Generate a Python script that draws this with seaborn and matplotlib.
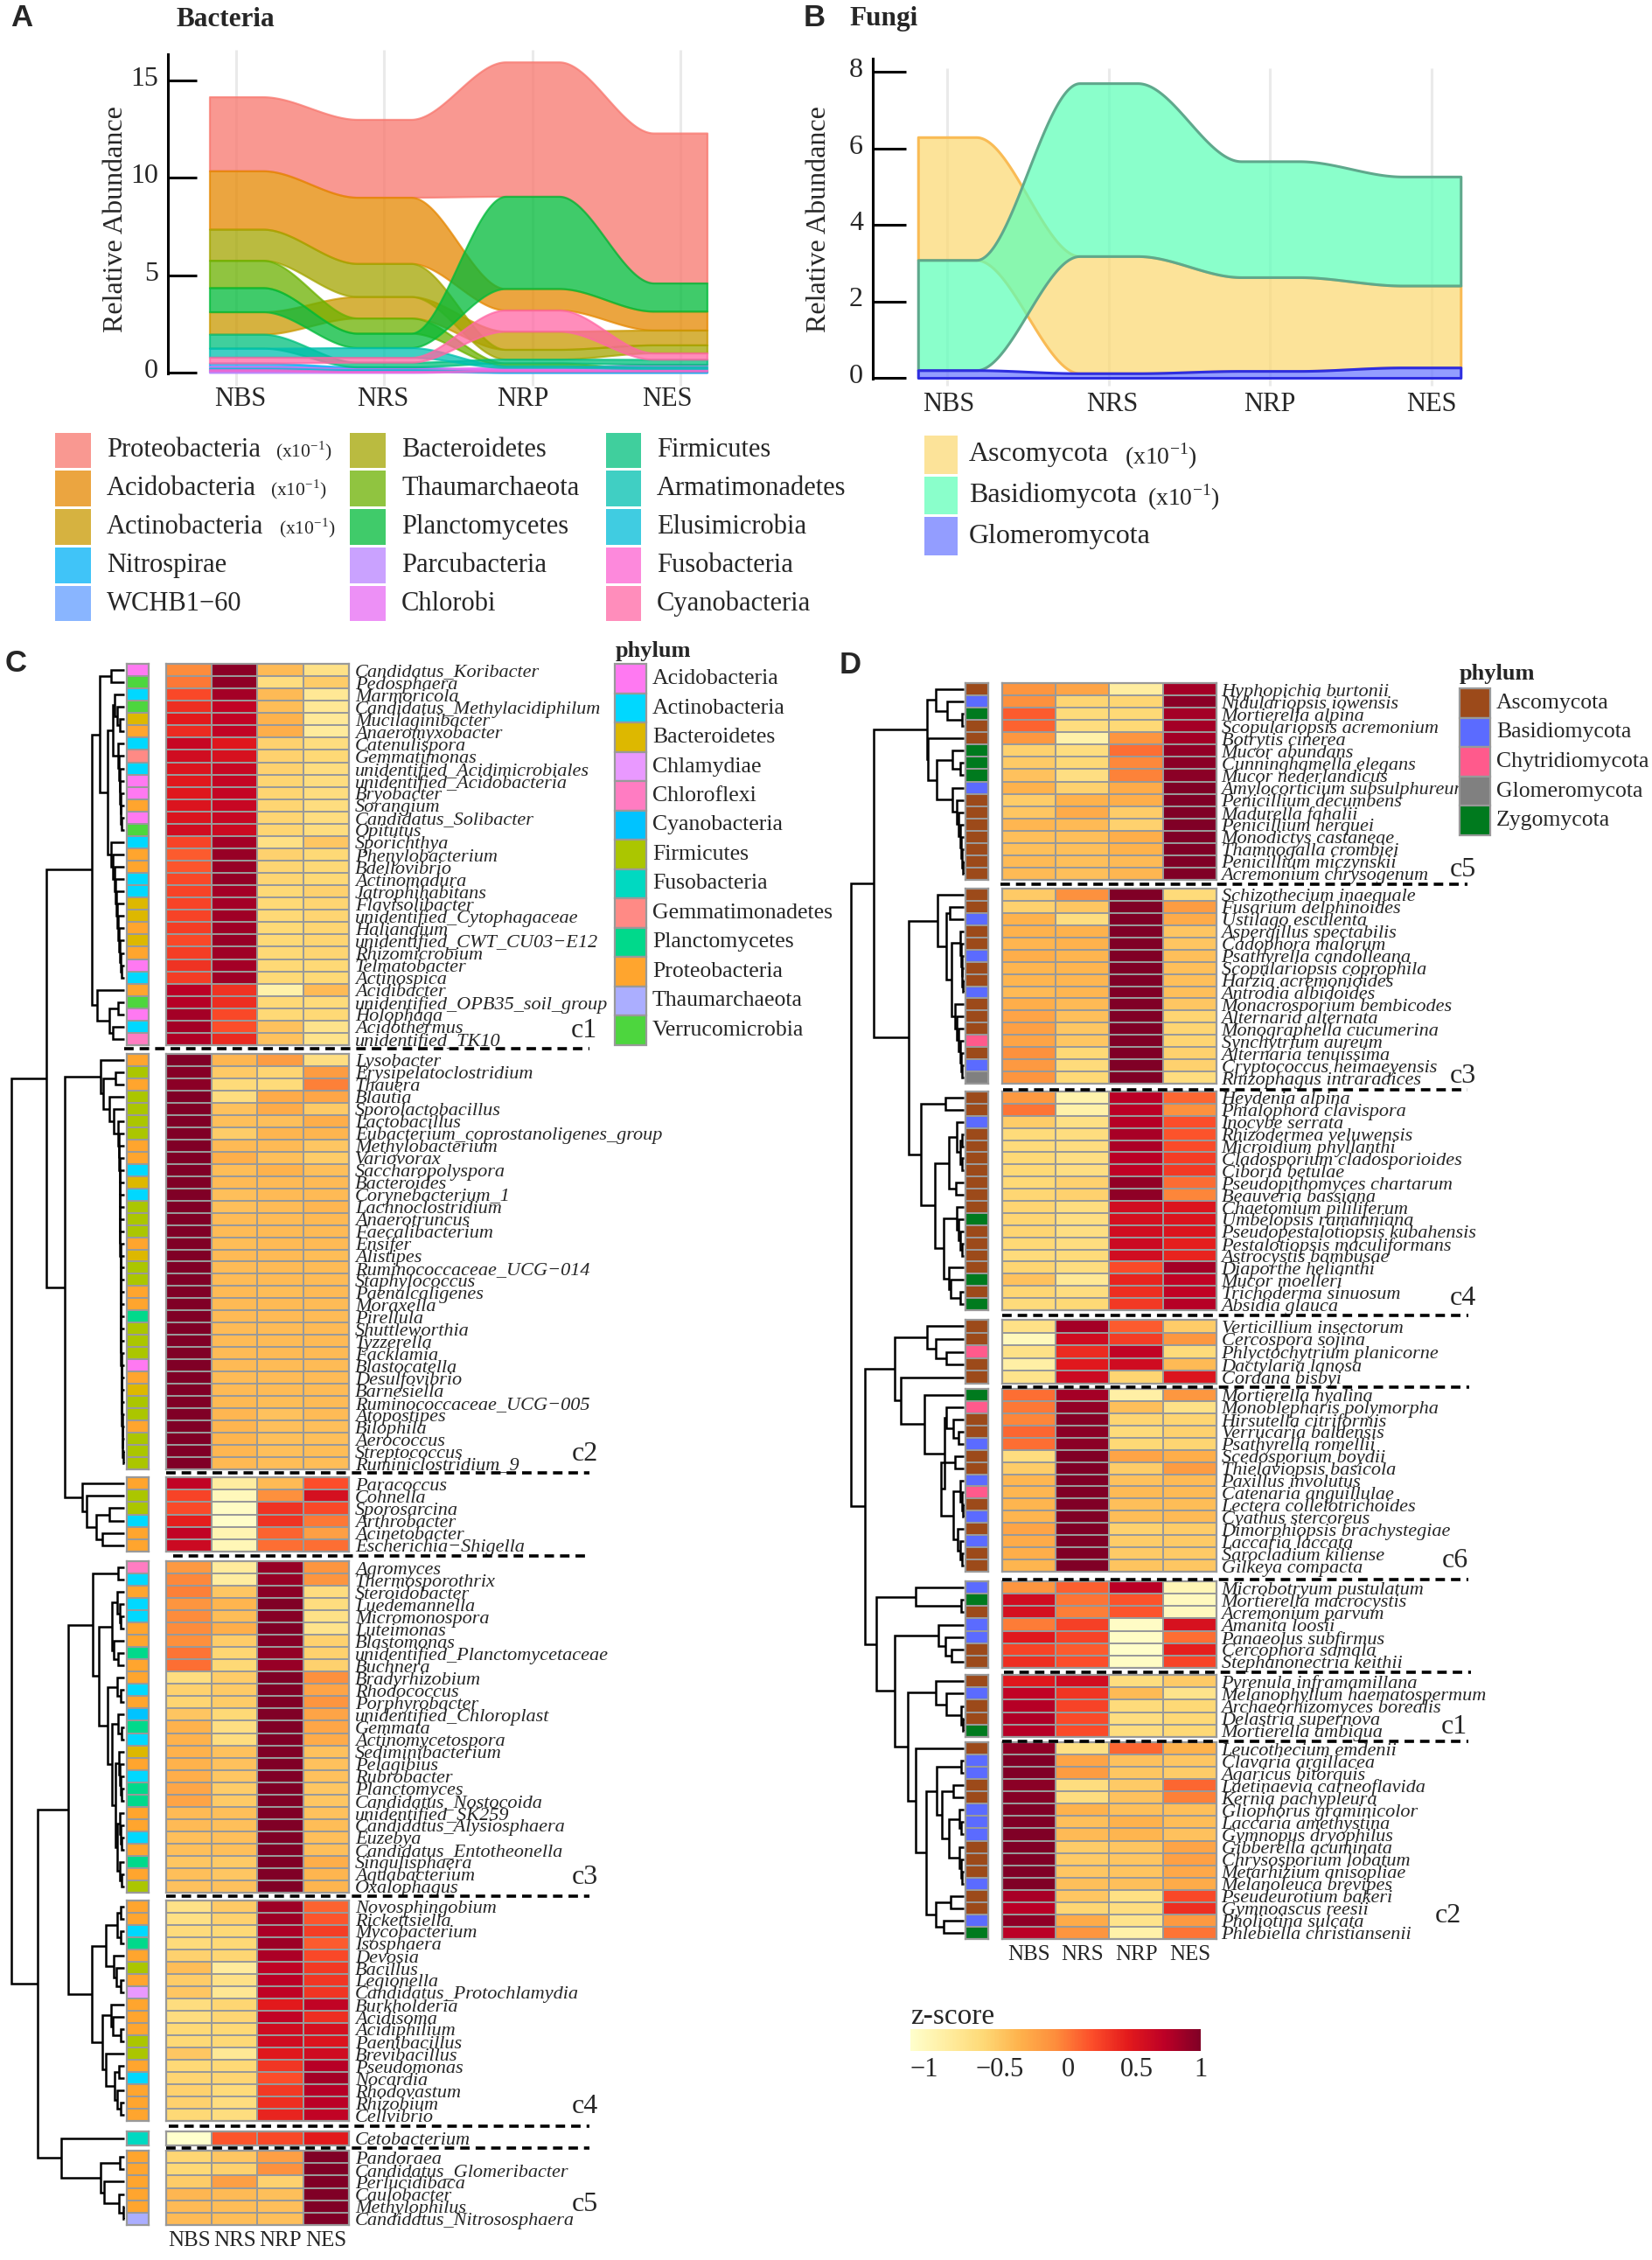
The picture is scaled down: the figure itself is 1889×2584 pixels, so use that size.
import numpy as np
import pandas as pd
import matplotlib
matplotlib.use('Agg')
import matplotlib.pyplot as plt
import matplotlib.transforms as mtrans
from matplotlib.colors import ListedColormap, to_rgba
from matplotlib.patches import Rectangle
import seaborn as sns

sns.set_theme(style='white')
plt.rcParams['font.family'] = ['Liberation Serif', 'DejaVu Serif']
plt.rcParams['mathtext.fontset'] = 'custom'
plt.rcParams['mathtext.rm'] = 'Liberation Serif'

W, H = 1890, 2584
SAMPLES = ['NBS', 'NRS', 'NRP', 'NES']
MINUS = '\u2212'

# ---- panel A, stream heights per sample
BACT_NAMES = ['Proteobacteria', 'Acidobacteria', 'Actinobacteria', 'Nitrospirae', 'WCHB1' + MINUS + '60',
              'Bacteroidetes', 'Thaumarchaeota', 'Planctomycetes', 'Parcubacteria', 'Chlorobi',
              'Firmicutes', 'Armatimonadetes', 'Elusimicrobia', 'Fusobacteria', 'Cyanobacteria']
BACT_COLORS = ['#F8766D', '#E58700', '#C99800', '#00B0F6', '#619CFF',
               '#A3A500', '#6BB100', '#00BA38', '#B983FF', '#E76BF3',
               '#00BF7D', '#00C0AF', '#00BCD8', '#FD61D1', '#FF67A4']
BACT_HEIGHTS = [[3.80, 4.00, 6.90, 7.70],
                [3.00, 3.40, 1.10, 0.97],
                [1.15, 1.10, 0.93, 0.76],
                [0.17, 0.08, 0.03, 0.03],
                [0.05, 0.04, 0.02, 0.02],
                [1.60, 1.70, 0.50, 0.41],
                [1.40, 0.78, 0.13, 0.05],
                [1.24, 0.74, 4.74, 1.45],
                [0.04, 0.03, 0.06, 0.06],
                [0.09, 0.06, 0.10, 0.11],
                [0.72, 0.24, 0.20, 0.26],
                [0.46, 0.50, 0.10, 0.10],
                [0.08, 0.05, 0.02, 0.02],
                [0.06, 0.03, 0.03, 0.03],
                [0.30, 0.25, 1.09, 0.33]]

# ---- panel B
FUNGI_NAMES = ['Ascomycota', 'Basidiomycota', 'Glomeromycota']
FUNGI_COLORS = ['#FBD972', '#5DFFB8', '#6A78FF']
FUNGI_EDGES = ['#F9BB55', '#5FA88C', '#2E2EE0']
FUNGI_HEIGHTS = [[3.21, 3.06, 2.45, 2.14],
                 [2.88, 4.52, 3.03, 2.85],
                 [0.20, 0.12, 0.18, 0.27]]

# ---- panel C, legend
C_PHYLA = ['Acidobacteria', 'Actinobacteria', 'Bacteroidetes', 'Chlamydiae', 'Chloroflexi', 'Cyanobacteria',
           'Firmicutes', 'Fusobacteria', 'Gemmatimonadetes', 'Planctomycetes', 'Proteobacteria',
           'Thaumarchaeota', 'Verrucomicrobia']
C_CODES = 'ANBHXCFUGLPTV'
C_COLORS = ['#FF79F2', '#00D8FF', '#DDB800', '#E999FF', '#FF7CC2', '#00C3FF',
            '#ABC600', '#00D9C1', '#FF8A85', '#00D98B', '#FFA52E', '#ABAEFF', '#4DD63E']

C1_GENERA = ['Candidatus_Koribacter', 'Pedosphaera', 'Marmoricola', 'Candidatus_Methylacidiphilum', 'Mucilaginibacter',
             'Anaeromyxobacter', 'Catenulispora', 'Gemmatimonas', 'unidentified_Acidimicrobiales',
             'unidentified_Acidobacteria', 'Bryobacter', 'Sorangium', 'Candidatus_Solibacter', 'Opitutus', 'Sporichthya',
             'Phenylobacterium', 'Bdellovibrio', 'Actinomadura', 'Jatrophihabitans', 'Flavisolibacter',
             'unidentified_Cytophagaceae', 'Haliangium', 'unidentified_CWT_CU03' + MINUS + 'E12', 'Rhizomicrobium',
             'Telmatobacter', 'Actinospica', 'Acidibacter', 'unidentified_OPB35_soil_group', 'Holophaga', 'Acidothermus',
             'unidentified_TK10']
C1_PHYLA = 'AVNVBPNGNAAPAVNPPNNBBPBPANPVANX'
C1_Z = [[0.0, .95, -.3, -.6], [.08, .93, -.55, -.42], [.28, .85, -.3, -.68], [.4, .72, -.32, -.68], [.5, .72, -.25, -.7],
        [.42, .72, -.22, -.72], [.68, .53, -.45, -.55], [.62, .58, -.45, -.5], [.55, .68, -.45, -.55], [.52, .7, -.47, -.55],
        [.53, .7, -.47, -.55], [.55, .68, -.47, -.55], [.55, .68, -.47, -.55], [.62, .65, -.47, -.55], [.3, .85, -.58, -.38],
        [.2, .9, -.45, -.5], [.22, .9, -.47, -.5], [.28, .92, -.47, -.5], [.3, .85, -.5, -.45], [.3, .85, -.5, -.47],
        [.3, .87, -.5, -.47], [.33, .87, -.5, -.47], [.28, .9, -.5, -.47], [.33, .87, -.5, -.47], [.38, .85, -.5, -.5],
        [.33, .87, -.5, -.5], [.75, .38, -.8, -.3], [.78, .4, -.5, -.52], [.85, .28, -.5, -.5], [.85, .25, -.35, -.62],
        [.8, .42, -.35, -.62]]

C2_GENERA = ['Lysobacter', 'Erysipelatoclostridium', 'Thauera', 'Blautia', 'Sporolactobacillus', 'Lactobacillus',
             'Eubacterium_coprostanoligenes_group', 'Methylobacterium', 'Variovorax', 'Saccharopolyspora', 'Bacteroides',
             'Corynebacterium_1', 'Lachnoclostridium', 'Anaerotruncus', 'Faecalibacterium', 'Ensifer', 'Alistipes',
             'Ruminococcaceae_UCG' + MINUS + '014', 'Staphylococcus', 'Paenalcaligenes', 'Moraxella', 'Pirellula',
             'Shuttleworthia', 'Tyzzerella', 'Facklamia', 'Blastocatella', 'Desulfovibrio', 'Barnesiella',
             'Ruminococcaceae_UCG' + MINUS + '005', 'Atopostipes', 'Bilophila', 'Aerococcus', 'Streptococcus',
             'Ruminiclostridium_9']
C2_PHYLA = 'PFPFFFFPPNBNFFFPBFFPPLFFFAPBFFPFFF'
C2_Z = [[1, -.28, -.1, -.57], [.97, -.4, -.47, -.1], [.95, -.52, -.52, .05], [1, -.55, -.2, -.17], [1, -.35, -.2, -.4],
        [1, -.33, -.33, -.22], [1, -.42, -.27, -.27], [1, -.3, -.3, -.38], [1, -.23, -.33, -.42], [1, -.32, -.25, -.33],
        [1, -.3, -.3, -.3], [1, -.33, -.3, -.3], [1, -.33, -.31, -.28], [1, -.31, -.31, -.29], [1, -.31, -.3, -.3],
        [1, -.32, -.3, -.3], [1, -.3, -.3, -.32], [1, -.31, -.3, -.31], [1, -.31, -.3, -.31], [1, -.3, -.32, -.3],
        [1, -.3, -.3, -.31], [1, -.3, -.3, -.31], [1, -.31, -.31, -.3], [1, -.31, -.31, -.3], [1, -.31, -.3, -.3],
        [1, -.3, -.31, -.31], [1, -.31, -.31, -.31], [1, -.3, -.31, -.31], [1, -.29, -.32, -.31], [1, -.28, -.35, -.31],
        [1, -.27, -.33, -.33], [1, -.27, -.33, -.33], [1, -.28, -.33, -.32], [1, -.29, -.32, -.32]]

C6_GENERA = ['Paracoccus', 'Cohnella', 'Sporosarcina', 'Arthrobacter', 'Acinetobacter', 'Escherichia' + MINUS + 'Shigella']
C6_PHYLA = 'PFFNPP'
C6_Z = [[.72, -.75, -.3, .25], [.3, -.9, -.02, .6], [.27, -.95, .38, .28], [.48, -.97, .38, .08], [.72, -.85, .17, -.12],
        [.65, -.88, .12, .12]]

C3_GENERA = ['Agromyces', 'Thermosporothrix', 'Steroidobacter', 'Luedemannella', 'Micromonospora', 'Luteimonas', 'Blastomonas',
             'unidentified_Planctomycetaceae', 'Buchnera', 'Bradyrhizobium', 'Rhodococcus', 'Porphyrobacter',
             'unidentified_Chloroplast', 'Gemmata', 'Actinomycetospora', 'Sediminibacterium', 'Pelagibius', 'Rubrobacter',
             'Planctomyces', 'Candidatus_Nostocoida', 'unidentified_SK259', 'Candidatus_Alysiosphaera', 'Euzebya',
             'Candidatus_Entotheonella', 'Singulisphaera', 'Aquabacterium', 'Oxalophagus']
C3_PHYLA = 'XNPNNPPLPPNPCLNBPNLLPPNPLPF'
C3_Z = [[-.08, -.72, .9, -.05], [.02, -.75, .9, -.05], [.05, -.38, .95, -.55], [-.05, -.27, 1, -.55], [0, -.32, .97, -.6],
        [0, -.22, 1, -.62], [-.02, -.42, .97, -.45], [.1, -.48, .92, -.45], [.12, -.5, .9, -.45], [-.55, -.42, 1, -.02],
        [-.45, -.4, 1, -.15], [-.47, -.42, 1, -.05], [-.37, -.5, 1, -.15], [-.25, -.57, 1, -.17], [-.25, -.55, 1, -.2],
        [-.25, -.35, 1, -.35], [-.25, -.35, 1, -.35], [-.22, -.38, 1, -.35], [-.17, -.42, 1, -.38], [-.15, -.4, 1, -.38],
        [-.3, -.33, 1, -.35], [-.3, -.33, 1, -.32], [-.33, -.33, 1, -.33], [-.33, -.33, 1, -.33], [-.38, -.4, 1, -.22],
        [-.33, -.38, 1, -.27], [-.35, -.35, 1, -.27]]

C4_GENERA = ['Novosphingobium', 'Rickettsiella', 'Mycobacterium', 'Isosphaera', 'Devosia', 'Bacillus', 'Legionella',
             'Candidatus_Protochlamydia', 'Burkholderia', 'Acidisoma', 'Acidiphilium', 'Paenibacillus', 'Brevibacillus',
             'Pseudomonas', 'Nocardia', 'Rhodovastum', 'Rhizobium', 'Cellvibrio']
C4_PHYLA = 'PPNLPFPHPPPFFPNPPP'
C4_Z = [[-.6, -.4, .88, .17], [-.58, -.45, .88, .22], [-.53, -.5, .82, .33], [-.53, -.5, .88, .2], [-.45, -.48, .82, .28],
        [-.32, -.72, .73, .35], [-.42, -.6, .75, .36], [-.38, -.67, .73, .37], [-.55, -.48, .5, .72], [-.55, -.48, .72, .4],
        [-.5, -.5, .63, .6], [-.5, -.5, .63, .55], [-.38, -.68, .52, .63], [-.5, -.5, .36, .77], [-.47, -.47, .25, .85],
        [-.45, -.52, .35, .77], [-.45, -.55, .4, .75], [-.5, -.55, .45, .72]]

CETO_GENERA = ['Cetobacterium']
CETO_PHYLA = 'U'
CETO_Z = [[-1, .22, .28, .5]]

C5_GENERA = ['Pandoraea', 'Candidatus_Glomeribacter', 'Perlucidibaca', 'Caulobacter', 'Methylophilus',
             'Candidatus_Nitrososphaera']
C5_PHYLA = 'PPPPPT'
C5_Z = [[-.48, -.38, -.12, 1], [-.5, -.45, -.03, 1], [-.42, -.12, -.45, 1], [-.28, -.3, -.33, 1], [-.3, -.32, -.33, 1],
        [-.3, -.32, -.33, 1]]

# ---- panel D
D_PHYLA = ['Ascomycota', 'Basidiomycota', 'Chytridiomycota', 'Glomeromycota', 'Zygomycota']
D_CODES = 'ABCGZ'
D_COLORS = ['#9C4A1A', '#5B6BFF', '#FF5A8C', '#808080', '#007A1E']

D5_GENERA = ['Hyphopichia burtonii', 'Nidulariopsis iowensis', 'Mortierella alpina', 'Scopulariopsis acremonium',
             'Botrytis cinerea', 'Mucor abundans', 'Cunninghamella elegans', 'Mucor nederlandicus',
             'Amylocorticium subsulphureum', 'Penicillium decumbens', 'Madurella fahalii', 'Penicillium herquei',
             'Monodictys castaneae', 'Thamnogalla crombiei', 'Penicillium miczynskii', 'Acremonium chrysogenum']
D5_PHYLA = 'ABZAAZZZBAAAAAAA'
D5_Z = [[-.05, -.15, -.75, .85], [-.03, -.47, -.48, .95], [.2, -.52, -.5, .85], [.17, -.55, -.5, .85], [-.07, -.8, -.05, .85],
        [-.45, -.55, .12, .92], [-.4, -.5, .02, .95], [-.35, -.57, .04, .95], [-.25, -.45, -.2, 1], [-.42, -.25, -.22, 1],
        [-.38, -.2, -.42, 1], [-.28, -.3, -.45, 1], [-.33, -.33, -.22, 1], [-.33, -.33, -.25, 1], [-.3, -.33, -.3, 1],
        [-.3, -.33, -.28, 1]]

D3_GENERA = ['Schizothecium inaequale', 'Fusarium delphinoides', 'Ustilago esculenta', 'Aspergillus spectabilis',
             'Cadophora malorum', 'Psathyrella candolleana', 'Scopulariopsis coprophila', 'Harzia acremonioides',
             'Antrodia albidoides', 'Monacrosporium bembicodes', 'Alternaria alternata', 'Monographella cucumerina',
             'Synchytrium aureum', 'Alternaria tenuissima', 'Cryptococcus heimaeyensis', 'Rhizophagus intraradices']
D3_PHYLA = 'AABAABAABAAACABG'
D3_Z = [[-.4, -.03, 1, -.52], [-.45, -.38, 1, -.1], [-.25, -.55, 1, -.2], [-.25, -.25, 1, -.37], [-.27, -.25, 1, -.37],
        [-.22, -.27, 1, -.33], [-.27, -.27, 1, -.33], [-.27, -.28, 1, -.33], [-.3, -.28, 1, -.33], [-.22, -.3, 1, -.38],
        [-.15, -.33, 1, -.47], [-.13, -.38, 1, -.47], [-.15, -.38, 1, -.47], [-.03, -.5, 1, -.45], [-.08, -.53, 1, -.45],
        [-.05, -.5, 1, -.55]]

D4_GENERA = ['Heydenia alpina', 'Phialophora clavispora', 'Inocybe serrata', 'Rhizodermea veluwensis', 'Microidium phyllanthi',
             'Cladosporium cladosporioides', 'Ciboria betulae', 'Pseudopithomyces chartarum', 'Beauveria bassiana',
             'Chaetomium pililiferum', 'Umbelopsis ramanniana', 'Pseudopestalotiopsis kubahensis', 'Pestalotiopsis maculiformans',
             'Astrocystis bambusae', 'Diaporthe helianthi', 'Mucor moelleri', 'Trichoderma sinuosum', 'Absidia glauca']
D4_PHYLA = 'AABAAAAAAAZAAAAZAZ'
D4_Z = [[-.08, -.82, .75, .15], [.1, -.8, .75, -.03], [-.42, -.58, .78, .25], [-.52, -.55, .83, .23], [-.52, -.55, .82, .27],
        [-.5, -.57, .75, .33], [-.5, -.57, .73, .35], [-.5, -.45, .92, .13], [-.48, -.45, .93, .03], [-.47, -.55, .62, .55],
        [-.47, -.57, .6, .55], [-.47, -.57, .62, .55], [-.5, -.55, .65, .48], [-.53, -.52, .62, .45], [-.47, -.55, .27, .85],
        [-.35, -.68, .45, .72], [-.48, -.55, .4, .72], [-.53, -.5, .35, .78]]

DV_GENERA = ['Verticillium insectorum', 'Cercospora sojina', 'Phlyctochytrium planicorne', 'Dactylaria lanosa', 'Cordana bisbyi']
DV_PHYLA = 'AACAA'
DV_Z = [[-.6, .85, .2, -.42], [-.9, .63, .33, -.07], [-.6, .42, .72, -.52], [-.78, .52, .63, -.3], [-.62, .65, -.47, .55]]

D6_GENERA = ['Mortierella hyalina', 'Monoblepharis polymorpha', 'Hirsutella citriformis', 'Verrucaria baldensis',
             'Psathyrella romellii', 'Scedosporium boydii', 'Thielaviopsis basicola', 'Paxillus involutus', 'Catenaria anguillulae',
             'Lectera collelotrichoides', 'Cyathus stercoreus', 'Dimorphiopsis brachystegiae', 'Laccaria laccata',
             'Sarocladium kiliense', 'Gilkeya compacta']
D6_PHYLA = 'ZCAABAABCABABAA'
D6_Z = [[.12, .85, -.78, -.07], [.08, .92, -.33, -.6], [.03, .97, -.47, -.47], [.15, .95, -.52, -.45], [.12, .95, -.5, -.47],
        [-.55, 1, -.15, -.22], [-.42, 1, -.42, -.1], [-.28, 1, -.35, -.3], [-.28, 1, -.3, -.3], [-.27, 1, -.33, -.32],
        [-.27, 1, -.32, -.3], [-.15, 1, -.45, -.42], [-.2, 1, -.42, -.4], [-.22, 1, -.4, -.4], [-.27, 1, -.36, -.38]]

DM_GENERA = ['Microbotryum pustulatum', 'Mortierella macrocystis', 'Acremonium parvum', 'Amanita loosii', 'Panaeolus subfirmus',
             'Cercophora samala', 'Stephanonectria keithii']
DM_PHYLA = 'BZABBAA'
DM_Z = [[-.05, .18, .75, -.87], [.62, .1, .23, -.92], [.6, .06, .22, -.92], [.07, .32, -.96, .58], [.52, .3, -.96, .12],
        [.3, .2, -.98, .48], [.4, .25, -.95, .3]]

D1_GENERA = ['Pyrenula inframamillana', 'Melanophyllum haematospermum', 'Archaeorhizomyces borealis', 'Delastria supernova',
             'Mortierella ambigua']
D1_PHYLA = 'ABAAZ'
D1_Z = [[.53, .62, -.55, -.4], [.72, .37, -.3, -.62], [.78, .3, -.53, -.5], [.8, .27, -.55, -.5], [.78, .27, -.55, -.5]]

D2_GENERA = ['Leucothecium emdenii', 'Clavaria argillacea', 'Agaricus bitorquis', 'Laetinaevia carneoflavida', 'Kernia pachypleura',
             'Gliophorus graminicolor', 'Laccaria amethystina', 'Gymnopus dryophilus', 'Gibberella acuminata', 'Chrysosporium lobatum',
             'Metarhizium anisopliae', 'Melanoleuca brevipes', 'Pseudeurotium bakeri', 'Gymnoascus reesii', 'Pholiotina sulcata',
             'Phlebiella christiansenii']
D2_PHYLA = 'ABBAABBBAAABAABZ'
D2_Z = [[.93, -.58, .15, -.25], [1, -.15, -.35, -.38], [1, -.1, -.38, -.42], [.95, -.55, -.4, .15], [.97, -.55, -.35, .05],
        [1, -.25, -.33, -.33], [1, -.33, -.25, -.32], [1, -.3, -.27, -.35], [1, -.42, -.37, -.15], [1, -.4, -.37, -.13],
        [1, -.38, -.36, -.18], [1, -.33, -.33, -.2], [.83, -.38, -.58, .28], [.75, -.48, -.55, .4], [.93, -.2, -.62, -.08],
        [.75, -.05, -.8, .1]]

# ---- dendrograms: (merge level, upper child, lower child), L is one leaf
L = 1


def comb(levels):
    node = (levels[-1], L, L)
    for lv in reversed(levels[:-1]):
        node = (lv, L, node)
    return node


C_TREE_C1 = (105,
             (114, (127, L, L),
              (123,
               (129, comb([131, 134, 137]), comb([135, 136, 137, 137, 138, 138, 139])),
               (127, L, comb([129, 131, 132, 133, 134, 135, 136, 137, 138, 139])))),
             (111, L, (125, (135, L, L), (129, L, L))))
C_TREE_C2 = (115, L,
             (118, (132, L, L),
              (125, L,
               (130, L, comb([135, 136, 136, 137, 137, 137, 137, 137, 137, 137, 138, 138, 138, 138,
                              138, 138, 138, 138, 138, 139, 139, 139, 139, 139, 140, 140, 140, 141])))))
C_TREE_C6 = (94, L, (99, L, (110, (125, L, L), (117, L, L))))
C_TREE_C3 = (106, (135, L, L),
             (113,
              (128, (134, L, (137, L, (138, L, L))), (130, L, (135, L, L))),
              (123, (134, L, (138, L, L)),
               (128, (135, L, (139, L, L)),
                (132, comb([136, 137, 138, 139]),
                 (134, comb([137, 138, 139]), (137, L, (139, L, L))))))))
C_TREE_C4 = (105,
             (121, (134, (138, L, L), (138, L, L)), (130, L, (133, L, (138, L, L)))),
             (117, (127, L, (129, L, (138, L, L))),
              (121, L, (131, (136, L, L), (134, L, (138, L, L))))))
C_TREE_C5 = (115, (137, L, L), (119, L, (136, L, (141, L, L))))
C_TREE = (13,
          (53, C_TREE_C1, (74, C_TREE_C2, C_TREE_C6)),
          (43, (78, C_TREE_C3, C_TREE_C4), (70, L, C_TREE_C5)))

D_TREE_C5 = (1060,
             (1070, L, (1083, L, (1100, L, L))),
             (1061, L,
              (1071, (1089, L, (1098, L, L)),
               (1089, L, comb([1094, 1096, 1098, 1099, 1100, 1101])))))
D_TREE_C3 = (1072, L,
             (1082, (1086, L, L),
              (1088, comb([1098, 1099, 1100, 1100, 1101]), comb([1092, 1094, 1096, 1098, 1099, 1100]))))
D_TREE_C4 = (1053, (1081, L, L),
             (1069,
              (1085, (1094, L, (1098, (1100, L, L), (1100, L, L))), (1093, L, L)),
              (1079, comb([1094, 1096, 1098, 1100]), (1085, L, (1087, L, (1098, L, L))))))
D_TREE_V = (1060, L, (1070, L, (1082, L, L)))
D_TREE_C6 = (1057, L,
             (1080, (1082, L, (1090, L, (1096, L, L))),
              (1076, (1092, L, L),
               (1090, comb([1098, 1100, 1101]), comb([1095, 1098, 1100])))))
D_TREE_M = (1047, L, (1099, L, L))
D_TREE_M2 = (1073, L, (1081, L, (1088, L, L)))
D_TREE_C1 = (1070, L, (1082, L, (1099, L, (1101, L, L))))
D_TREE_C2 = (1047, L,
             (1059,
              (1071, (1099, L, L),
               (1077, (1090, L, L),
                (1085, (1097, L, (1099, L, L)), comb([1097, 1099, 1100])))),
              (1070, (1087, L, L), (1079, L, L))))
D_TREE = (973,
          (999, D_TREE_C5, (1039, D_TREE_C3, D_TREE_C4)),
          (989,
           (1023, D_TREE_V, (1030, L, D_TREE_C6)),
           (1002, D_TREE_M, (1023, D_TREE_M2, (1038, D_TREE_C1, D_TREE_C2)))))

CMAP = sns.color_palette('YlOrRd', as_cmap=True)
GREY = '#999999'

fig = plt.figure(figsize=(W / 100, H / 100), dpi=100, facecolor='white')


def px_axes(l, t, r, b, **kw):
    return fig.add_axes([l / W, 1 - b / H, (r - l) / W, (b - t) / H], **kw)


def shift_text(lab, dx, dy):
    # offsets in pixels, up is negative like the picture
    off = mtrans.ScaledTranslation(dx / 100, -dy / 100, fig.dpi_scale_trans)
    lab.set_transform(lab.get_transform() + off)


def stream_panel(l, t, r, b, x0, x3, y0, ytop_px, yunit, ticks, heights, faces, edges, alpha, edge_alpha, lw, xshift, tick_len):
    ax = px_axes(l, t, r, b)
    step = (x3 - x0) / 3
    ax.set_xlim((l - x0) / step, (r - x0) / step)
    ax.set_ylim((y0 - b) / yunit, (y0 - t) / yunit)
    # gridlines run a little past the axis, as in the picture
    ax.vlines(range(4), (y0 - 441) / yunit, (y0 - ytop_px) / yunit, color='#EAEAEA', lw=2.2, clip_on=False, zorder=0)

    h = np.array(heights, dtype=float)
    tops = np.zeros_like(h)
    bots = np.zeros_like(h)
    for j in range(4):
        base = 0.0
        for i in np.argsort(h[:, j], kind='stable'):
            bots[i, j] = base
            base += h[i, j]
            tops[i, j] = base

    flat = 0.18
    t01 = np.linspace(0, 1, 60)[1:-1]
    s = t01 ** 2 * (3 - 2 * t01)
    for i in range(len(h)):
        xx, lo, hi = [], [], []
        for j in range(4):
            xx += [j - flat, j + flat]
            lo += [bots[i, j]] * 2
            hi += [tops[i, j]] * 2
            if j < 3:
                xx += list(j + flat + t01 * (1 - 2 * flat))
                lo += list(bots[i, j] + s * (bots[i, j + 1] - bots[i, j]))
                hi += list(tops[i, j] + s * (tops[i, j + 1] - tops[i, j]))
        ax.fill_between(xx, lo, hi, facecolor=to_rgba(faces[i], alpha), edgecolor=to_rgba(edges[i], edge_alpha),
                        lw=lw, zorder=2 + i * 0.01)

    ax.set_yticks(ticks)
    ax.set_yticklabels([str(v) for v in ticks], fontsize=23)
    ax.set_xticks(range(4))
    ax.set_xticklabels(SAMPLES, fontsize=22)
    ax.tick_params(axis='y', direction='in', length=tick_len, width=2.2, color='black', pad=8, left=True)
    ax.tick_params(axis='x', length=0, pad=11)
    sns.despine(ax=ax, bottom=True)
    ax.spines['left'].set_linewidth(2.2)
    ax.spines['left'].set_color('black')
    ax.set_facecolor('none')
    ax.grid(False)
    for lab in ax.get_yticklabels():
        shift_text(lab, 0, -5)
    for lab, dx in zip(ax.get_xticklabels(), xshift):
        shift_text(lab, dx, 0)
    return ax


stream_panel(192, 62, 830, 427, 270, 778, 426, 57, 22.27, [0, 5, 10, 15], BACT_HEIGHTS, BACT_COLORS, BACT_COLORS,
             0.75, 0.75, 1.6, [5, -2, -11, -15], 24)
stream_panel(998, 67, 1690, 433, 1083, 1637, 432, 78, 43.75, [0, 2, 4, 6, 8], FUNGI_HEIGHTS, FUNGI_COLORS, FUNGI_EDGES,
             0.72, 1.0, 2.2, [2, 4, -1, 0], 27)


def heat_block(l, r, strip_l, strip_r, t, b, z, genera, phyla, codes, colors, xlabels=False, cax=None, pad=5):
    ax = px_axes(l, t, r, b)
    df = pd.DataFrame(z, index=genera, columns=SAMPLES)
    if cax is not None:
        kw = dict(cbar=True, cbar_ax=cax, cbar_kws={'orientation': 'horizontal'})
    else:
        kw = dict(cbar=False)
    sns.heatmap(df, ax=ax, cmap=CMAP, vmin=-1, vmax=1, linewidths=1.15, linecolor=GREY,
                xticklabels=xlabels, yticklabels=True, **kw)
    ax.yaxis.tick_right()
    ax.tick_params(axis='both', length=0)
    ax.tick_params(axis='y', pad=pad)
    ax.set_yticks(np.arange(len(genera)) + 0.5)
    ax.set_yticklabels(genera, rotation=0, fontsize=16, fontstyle='italic', va='center')
    for lab in ax.get_yticklabels():
        shift_text(lab, 0, 3)
    ax.set_xlabel('')
    ax.set_ylabel('')
    if xlabels:
        ax.set_xticklabels(SAMPLES, rotation=0, fontsize=18)
        ax.tick_params(axis='x', pad=5)
    for sp in ax.spines.values():
        sp.set_visible(True)
        sp.set_color(GREY)
        sp.set_linewidth(1.6)

    sx = px_axes(strip_l, t, strip_r, b)
    idx = np.array([[codes.index(c)] for c in phyla])
    sns.heatmap(idx, ax=sx, cmap=ListedColormap(colors), vmin=-0.5, vmax=len(colors) - 0.5, cbar=False,
                linewidths=1.15, linecolor=GREY, xticklabels=False, yticklabels=False)
    for sp in sx.spines.values():
        sp.set_visible(True)
        sp.set_color(GREY)
        sp.set_linewidth(1.6)
    return ax


def row_centres(blocks):
    ys = []
    for t, b, n in blocks:
        ys += list(t + (np.arange(n) + 0.5) * (b - t) / n)
    return ys


C_BLOCKS = [(759, 1195, C1_Z, C1_GENERA, C1_PHYLA), (1205, 1680, C2_Z, C2_GENERA, C2_PHYLA),
            (1689, 1774, C6_Z, C6_GENERA, C6_PHYLA), (1785, 2164, C3_Z, C3_GENERA, C3_PHYLA),
            (2173, 2425, C4_Z, C4_GENERA, C4_PHYLA), (2437, 2453, CETO_Z, CETO_GENERA, CETO_PHYLA),
            (2459, 2544, C5_Z, C5_GENERA, C5_PHYLA)]
D_BLOCKS = [(781, 1006, D5_Z, D5_GENERA, D5_PHYLA), (1016, 1239, D3_Z, D3_GENERA, D3_PHYLA),
            (1248, 1498, D4_Z, D4_GENERA, D4_PHYLA), (1509, 1582, DV_Z, DV_GENERA, DV_PHYLA),
            (1588, 1797, D6_Z, D6_GENERA, D6_PHYLA), (1808, 1907, DM_Z, DM_GENERA, DM_PHYLA),
            (1915, 1986, D1_Z, D1_GENERA, D1_PHYLA), (1992, 2217, D2_Z, D2_GENERA, D2_PHYLA)]

for k, (t, b, z, g, p) in enumerate(C_BLOCKS):
    heat_block(190, 399, 145, 170, t, b, z, g, p, C_CODES, C_COLORS, xlabels=(k == len(C_BLOCKS) - 1), pad=5)

cax = px_axes(1041, 2320, 1373, 2345)
for k, (t, b, z, g, p) in enumerate(D_BLOCKS):
    last = k == len(D_BLOCKS) - 1
    heat_block(1146, 1391, 1104, 1130, t, b, z, g, p, D_CODES, D_COLORS, xlabels=last, cax=cax if last else None, pad=4)

cax.set_xticks([-1, -0.5, 0, 0.5, 1])
cax.set_xticklabels([MINUS + '1', MINUS + '0.5', '0', '0.5', '1'], fontsize=22)
cax.tick_params(axis='x', length=0, pad=5)
for lab, dx in zip(cax.get_xticklabels(), [16, 19, 14, 10, 0]):
    shift_text(lab, dx, 0)

# overlay in picture pixels for dendrograms, legends and panel text
ov = fig.add_axes([0, 0, 1, 1], zorder=10)
ov.set_xlim(0, W)
ov.set_ylim(H, 0)
ov.axis('off')
ov.patch.set_alpha(0)


def draw_tree(node, ys, x_leaf):
    if node == L:
        return x_leaf, next(ys)
    lv, a, b = node
    xa, ya = draw_tree(a, ys, x_leaf)
    xb, yb = draw_tree(b, ys, x_leaf)
    ov.plot([xa, lv, lv, xb], [ya, ya, yb, yb], color='black', lw=1.8, solid_joinstyle='miter', solid_capstyle='butt')
    return lv, (ya + yb) / 2


draw_tree(C_TREE, iter(row_centres([(t, b, len(z)) for t, b, z, _, _ in C_BLOCKS])), 142)
draw_tree(D_TREE, iter(row_centres([(t, b, len(z)) for t, b, z, _, _ in D_BLOCKS])), 1102)

C_DASHES = [(142, 674, 1199), (190, 674, 1684), (198, 674, 1779), (190, 674, 2168), (193, 674, 2431), (190, 674, 2456)]
D_DASHES = [(1144, 1678, 1011), (1147, 1678, 1246), (1146, 1679, 1504), (1146, 1680, 1586), (1146, 1679, 1806),
            (1148, 1682, 1912), (1146, 1679, 1991)]
for x0, x1, y in C_DASHES + D_DASHES:
    ov.plot([x0, x1], [y, y], color='black', lw=2.6, linestyle=(0, (3.0, 1.9)), dash_capstyle='butt')

C_TAGS = [('c1', 668, 1179), ('c2', 669, 1663), ('c3', 669, 2147), ('c4', 669, 2408), ('c5', 669, 2520)]
D_TAGS = [('c5', 1673, 995), ('c3', 1673, 1230), ('c4', 1673, 1485), ('c6', 1664, 1785), ('c1', 1663, 1974), ('c2', 1656, 2191)]
for txt, x, y in C_TAGS + D_TAGS:
    ov.text(x, y, txt, fontsize=23, ha='center', va='center')


def swatch_legend(x0, x1, tx, y0, step, names, colors, alpha=1.0, fs=22, edge='none', gap=3):
    for i, (nm, col) in enumerate(zip(names, colors)):
        y = y0 + i * step
        ov.add_patch(Rectangle((x0, y - step / 2 + gap / 2), x1 - x0, step - gap, facecolor=to_rgba(col, alpha),
                               edgecolor=edge, lw=1.6 if edge != 'none' else 0))
        ov.text(tx, y, nm, fontsize=fs, ha='left', va='center')


X10 = r'(x10$^{-1}$)'
swatch_legend(63, 104, 122, 515, 43.75, BACT_NAMES[:5], BACT_COLORS[:5], alpha=0.75)
swatch_legend(400, 441, 459, 515, 43.75, BACT_NAMES[5:10], BACT_COLORS[5:10], alpha=0.75)
swatch_legend(693, 733, 751, 515, 43.75, BACT_NAMES[10:], BACT_COLORS[10:], alpha=0.75)
for x, y in [(315, 515), (309, 559), (319, 603)]:
    ov.text(x, y + 1, X10, fontsize=15.5, ha='left', va='center')

swatch_legend(1057, 1095, 1108, 520, 46.5, FUNGI_NAMES, FUNGI_COLORS, alpha=0.72, fs=23)
ov.text(1286, 522, X10, fontsize=20, ha='left', va='center')
ov.text(1312, 569, X10, fontsize=20, ha='left', va='center')

swatch_legend(703, 739, 746, 776, 33.5, C_PHYLA, C_COLORS, fs=18.5, edge=GREY, gap=0)
ov.text(704, 745, 'phylum', fontsize=19, fontweight='bold', ha='left', va='center')
swatch_legend(1669, 1704, 1711, 804, 33.5, D_PHYLA, D_COLORS, fs=18.5, edge=GREY, gap=0)
ov.text(1669, 771, 'phylum', fontsize=19, fontweight='bold', ha='left', va='center')
ov.text(1041, 2306, 'z-score', fontsize=24, ha='left', va='center')

ov.text(132, 251, 'Relative Abundance', fontsize=23, rotation=90, ha='center', va='center')
ov.text(936, 251, 'Relative Abundance', fontsize=23, rotation=90, ha='center', va='center')
ov.text(201, 22, 'Bacteria', fontsize=22.5, fontweight='bold', ha='left', va='center')
ov.text(971, 22, 'Fungi', fontsize=22.5, fontweight='bold', ha='left', va='center')
for txt, x, y in [('A', 12, 21), ('B', 919, 20), ('C', 6, 758), ('D', 960, 760)]:
    ov.text(x, y, txt, fontsize=25, fontweight='bold', family=['Liberation Sans', 'DejaVu Sans'], ha='left', va='center')

fig.savefig('out.png', dpi=100)
